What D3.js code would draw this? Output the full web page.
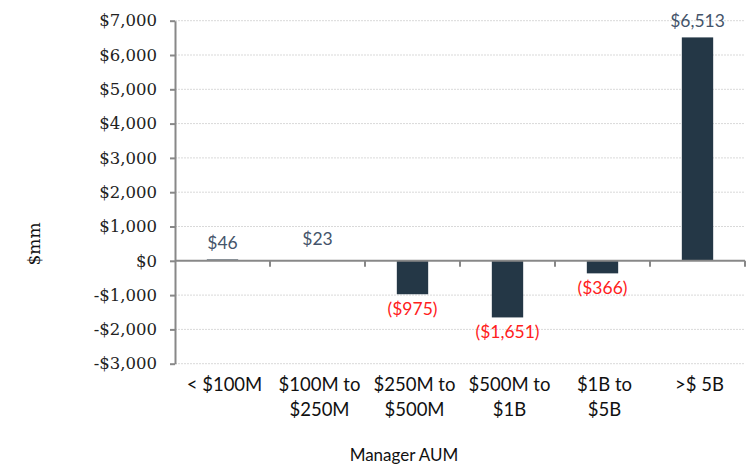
<!DOCTYPE html>
<html>
<head>
<meta charset="utf-8">
<script src="https://cdn.jsdelivr.net/npm/d3@7"></script>
<style>
body { margin: 0; background: #fff; }
</style>
</head>
<body>
<div id="svg"></div>
<script>
let categories = ['< $100M', '$100M to|$250M', '$250M to|$500M', '$500M to|$1B', '$1B to|$5B', '>$ 5B']
let values = [46, 23, -975, -1651, -366, 6513]
let labels = ['$46', '$23', '($975)', '($1,651)', '($366)', '$6,513']
let yTicks = [-3000, -2000, -1000, 0, 1000, 2000, 3000, 4000, 5000, 6000, 7000]

let width = 746, height = 468
let plot = {left: 175, right: 745, top: 20.7, bottom: 363.7}

let svg = d3.select('#svg')
.append('svg')
.attr('width', width)
.attr('height', height)

let xScale = d3.scaleBand()
.domain(categories)
.range([plot.left, plot.right])
.paddingInner(0.67)
.paddingOuter(0.335)

let yScale = d3.scaleLinear()
.domain([-3000, 7000])
.range([plot.bottom, plot.top])

let fmt = d => (d < 0 ? '-$' : '$') + d3.format(',')(Math.abs(d))

// grid lines
svg.selectAll('.grid')
.data(yTicks.filter(d => d !== 0))
.join('line')
.attr('class', 'grid')
.attr('x1', plot.left)
.attr('x2', plot.right)
.attr('y1', d => yScale(d))
.attr('y2', d => yScale(d))
.style('stroke', '#d9d9d9')
.style('stroke-width', 1)
.style('stroke-dasharray', '2,1')

// y axis
let yAxis = svg.append('g')
.attr('transform', `translate(${plot.left}, 0)`)
.call(d3.axisLeft(yScale).tickValues(yTicks).tickFormat(fmt).tickSize(5).tickSizeOuter(0))
yAxis.select('.domain').style('stroke', '#888').style('stroke-width', 2)
yAxis.selectAll('.tick line').style('stroke', '#888').style('stroke-width', 2)
yAxis.selectAll('.tick text')
.attr('x', -18)
.style('font-family', '"DejaVu Serif", serif')
.style('font-size', '16.5px')
.style('fill', '#222')

// bars
svg.selectAll('.bar')
.data(values)
.join('rect')
.attr('class', 'bar')
.attr('x', (d, i) => xScale(categories[i]))
.attr('width', xScale.bandwidth())
.attr('y', d => yScale(Math.max(0, d)))
.attr('height', d => Math.abs(yScale(d) - yScale(0)))
.style('fill', (d, i) => i === 0 ? '#6b7680' : '#243746')

// x axis along zero
let boundaries = d3.range(categories.length + 1).map(i => plot.left + i * xScale.step())
svg.append('line')
.attr('x1', plot.left)
.attr('x2', plot.right)
.attr('y1', yScale(0))
.attr('y2', yScale(0))
.style('stroke', '#888')
.style('stroke-width', 2)
svg.selectAll('.xtick')
.data(boundaries.slice(1))
.join('line')
.attr('class', 'xtick')
.attr('x1', d => d)
.attr('x2', d => d)
.attr('y1', yScale(0))
.attr('y2', yScale(0) + 6)
.style('stroke', '#888')
.style('stroke-width', 2)

// data labels
svg.selectAll('.dlabel')
.data(values)
.join('text')
.attr('class', 'dlabel')
.text((d, i) => labels[i])
.attr('x', (d, i) => xScale(categories[i]) + xScale.bandwidth() / 2)
.attr('y', (d, i) => d >= 0 ? yScale(d) - (i === 1 ? 15 : 10) : yScale(d) + 21)
.style('text-anchor', 'middle')
.style('font-family', 'Lato, sans-serif')
.style('font-size', '17.5px')
.style('fill', d => d >= 0 ? '#44546a' : '#ff2020')

// category labels
let cats = svg.selectAll('.cat')
.data(categories)
.join('text')
.attr('class', 'cat')
.attr('x', d => xScale(d) + xScale.bandwidth() / 2 + 2)
.attr('y', 391)
.style('text-anchor', 'middle')
.style('font-family', 'Lato, sans-serif')
.style('font-size', '18.5px')
.style('fill', '#111')
cats.selectAll('tspan')
.data(d => d.split('|'))
.join('tspan')
.attr('x', function() { return this.parentNode.getAttribute('x') })
.attr('dy', (d, i) => i === 0 ? 0 : 25)
.text(d => d)

// axis titles
svg.append('text')
.text('Manager AUM')
.attr('x', 404)
.attr('y', 461)
.style('text-anchor', 'middle')
.style('font-family', 'Lato, sans-serif')
.style('font-size', '17px')
.style('fill', '#111')

svg.append('text')
.text('$mm')
.attr('transform', `translate(40, 244)rotate(-90)`)
.style('text-anchor', 'middle')
.style('font-family', '"DejaVu Serif", serif')
.style('font-size', '17px')
.style('fill', '#111')
</script>
</body>
</html>
